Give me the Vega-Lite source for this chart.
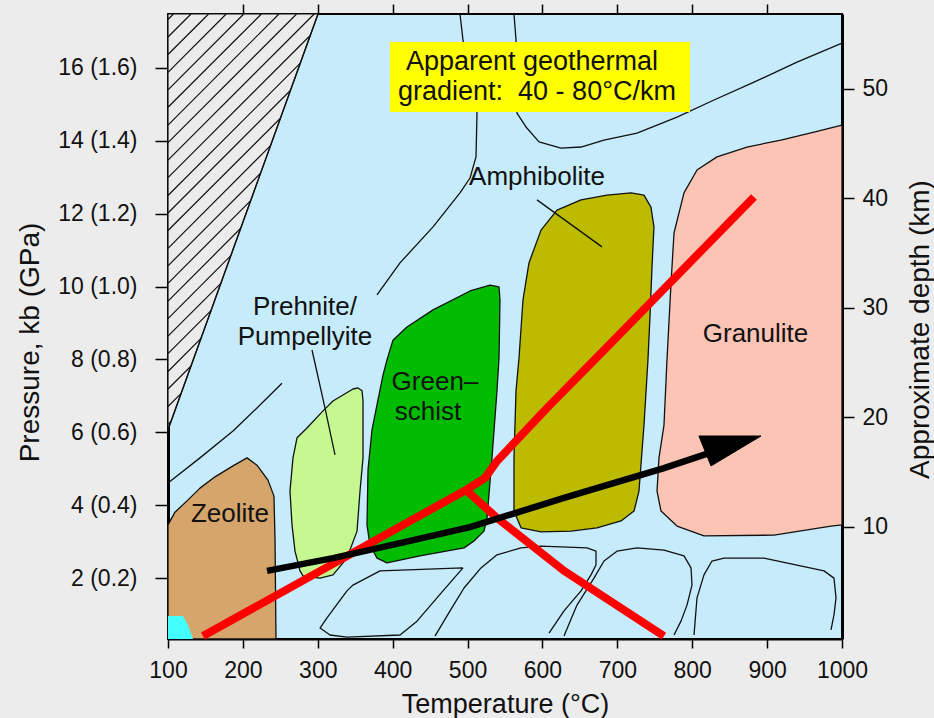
{
  "$schema": "https://vega.github.io/schema/vega-lite/v6.json",
  "width": 674,
  "height": 625,
  "autosize": {"type": "none"},
  "padding": {"left": 168, "top": 14, "right": 92, "bottom": 79},
  "background": "#ECECEC",
  "config": {
    "font": "Liberation Sans",
    "view": {"fill": "#C6EBFA", "stroke": "#000000", "strokeWidth": 2},
    "axis": {"grid": false, "labelFont": "Liberation Sans", "titleFont": "Liberation Sans", "labelColor": "#111111", "titleColor": "#111111", "titleFontWeight": "normal", "tickColor": "#000000", "domainColor": "#000000", "labelOverlap": false, "labelFlush": false}
  },
  "datasets": {
    "hatch": [
      {"i": 0, "T": 100, "P": 17.48}, {"i": 1, "T": 300.3, "P": 17.48}, {"i": 2, "T": 100, "P": 6.07}
    ],
    "hatchLines": [
      {"T": 100, "P": 17.33, "T2": 107.2, "P2": 17.48},
      {"T": 100, "P": 16.85, "T2": 130.7, "P2": 17.48},
      {"T": 100, "P": 16.37, "T2": 154.2, "P2": 17.48},
      {"T": 100, "P": 15.88, "T2": 177.7, "P2": 17.48},
      {"T": 100, "P": 15.40, "T2": 201.2, "P2": 17.48},
      {"T": 100, "P": 14.92, "T2": 224.7, "P2": 17.48},
      {"T": 100, "P": 14.43, "T2": 248.2, "P2": 17.48},
      {"T": 100, "P": 13.95, "T2": 271.7, "P2": 17.48},
      {"T": 100, "P": 13.47, "T2": 295.2, "P2": 17.48},
      {"T": 100, "P": 12.99, "T2": 289.9, "P2": 16.89},
      {"T": 100, "P": 12.50, "T2": 276.7, "P2": 16.13},
      {"T": 100, "P": 12.02, "T2": 263.4, "P2": 15.38},
      {"T": 100, "P": 11.54, "T2": 250.1, "P2": 14.62},
      {"T": 100, "P": 11.05, "T2": 236.9, "P2": 13.87},
      {"T": 100, "P": 10.57, "T2": 223.6, "P2": 13.11},
      {"T": 100, "P": 10.09, "T2": 210.4, "P2": 12.36},
      {"T": 100, "P": 9.60, "T2": 197.1, "P2": 11.60},
      {"T": 100, "P": 9.12, "T2": 183.9, "P2": 10.85},
      {"T": 100, "P": 8.64, "T2": 170.6, "P2": 10.09},
      {"T": 100, "P": 8.16, "T2": 157.4, "P2": 9.34},
      {"T": 100, "P": 7.67, "T2": 144.1, "P2": 8.58},
      {"T": 100, "P": 7.19, "T2": 130.8, "P2": 7.82},
      {"T": 100, "P": 6.71, "T2": 117.6, "P2": 7.07},
      {"T": 100, "P": 6.22, "T2": 104.3, "P2": 6.31}
    ],
    "facies": [
      {"shape": "Zeolite", "i": 0, "T": 100, "P": 0.33},
      {"shape": "Zeolite", "i": 1, "T": 100, "P": 3.46},
      {"shape": "Zeolite", "i": 2, "T": 109.3, "P": 3.81},
      {"shape": "Zeolite", "i": 3, "T": 125.4, "P": 4.12},
      {"shape": "Zeolite", "i": 4, "T": 142.7, "P": 4.47},
      {"shape": "Zeolite", "i": 5, "T": 162.8, "P": 4.78},
      {"shape": "Zeolite", "i": 6, "T": 186.8, "P": 5.08},
      {"shape": "Zeolite", "i": 7, "T": 205.5, "P": 5.30},
      {"shape": "Zeolite", "i": 8, "T": 218.8, "P": 5.10},
      {"shape": "Zeolite", "i": 9, "T": 233.5, "P": 4.69},
      {"shape": "Zeolite", "i": 10, "T": 241.5, "P": 4.25},
      {"shape": "Zeolite", "i": 11, "T": 242.9, "P": 3.05},
      {"shape": "Zeolite", "i": 12, "T": 244.2, "P": 0.33},
      {"shape": "Prehnite", "i": 0, "T": 353.7, "P": 7.22},
      {"shape": "Prehnite", "i": 1, "T": 347.0, "P": 7.19},
      {"shape": "Prehnite", "i": 2, "T": 320.3, "P": 6.86},
      {"shape": "Prehnite", "i": 3, "T": 307.0, "P": 6.59},
      {"shape": "Prehnite", "i": 4, "T": 285.6, "P": 6.12},
      {"shape": "Prehnite", "i": 5, "T": 272.3, "P": 5.85},
      {"shape": "Prehnite", "i": 6, "T": 266.9, "P": 5.30},
      {"shape": "Prehnite", "i": 7, "T": 262.9, "P": 4.39},
      {"shape": "Prehnite", "i": 8, "T": 265.6, "P": 3.46},
      {"shape": "Prehnite", "i": 9, "T": 269.6, "P": 2.74},
      {"shape": "Prehnite", "i": 10, "T": 276.3, "P": 2.20},
      {"shape": "Prehnite", "i": 11, "T": 280.3, "P": 2.06},
      {"shape": "Prehnite", "i": 12, "T": 303.0, "P": 2.00},
      {"shape": "Prehnite", "i": 13, "T": 320.3, "P": 2.09},
      {"shape": "Prehnite", "i": 14, "T": 339.0, "P": 2.55},
      {"shape": "Prehnite", "i": 15, "T": 352.4, "P": 3.29},
      {"shape": "Prehnite", "i": 16, "T": 356.4, "P": 4.39},
      {"shape": "Prehnite", "i": 17, "T": 360.4, "P": 5.30},
      {"shape": "Prehnite", "i": 18, "T": 360.4, "P": 6.86},
      {"shape": "Prehnite", "i": 19, "T": 359.1, "P": 7.14},
      {"shape": "Greenschist", "i": 0, "T": 392.4, "P": 7.99},
      {"shape": "Greenschist", "i": 1, "T": 400.4, "P": 8.53},
      {"shape": "Greenschist", "i": 2, "T": 419.1, "P": 8.89},
      {"shape": "Greenschist", "i": 3, "T": 453.9, "P": 9.36},
      {"shape": "Greenschist", "i": 4, "T": 503.3, "P": 9.88},
      {"shape": "Greenschist", "i": 5, "T": 530.0, "P": 10.04},
      {"shape": "Greenschist", "i": 6, "T": 542.0, "P": 9.99},
      {"shape": "Greenschist", "i": 7, "T": 543.3, "P": 9.63},
      {"shape": "Greenschist", "i": 8, "T": 542.0, "P": 8.04},
      {"shape": "Greenschist", "i": 9, "T": 539.3, "P": 7.14},
      {"shape": "Greenschist", "i": 10, "T": 532.6, "P": 5.30},
      {"shape": "Greenschist", "i": 11, "T": 526.0, "P": 3.65},
      {"shape": "Greenschist", "i": 12, "T": 522.0, "P": 3.29},
      {"shape": "Greenschist", "i": 13, "T": 508.6, "P": 3.02},
      {"shape": "Greenschist", "i": 14, "T": 495.3, "P": 2.83},
      {"shape": "Greenschist", "i": 15, "T": 436.5, "P": 2.61},
      {"shape": "Greenschist", "i": 16, "T": 392.4, "P": 2.42},
      {"shape": "Greenschist", "i": 17, "T": 379.1, "P": 2.55},
      {"shape": "Greenschist", "i": 18, "T": 369.7, "P": 2.91},
      {"shape": "Greenschist", "i": 19, "T": 365.7, "P": 3.46},
      {"shape": "Greenschist", "i": 20, "T": 367.1, "P": 4.97},
      {"shape": "Greenschist", "i": 21, "T": 372.4, "P": 6.07},
      {"shape": "Greenschist", "i": 22, "T": 380.4, "P": 6.89},
      {"shape": "Greenschist", "i": 23, "T": 387.1, "P": 7.57},
      {"shape": "Amphibolite", "i": 0, "T": 571.4, "P": 3.38},
      {"shape": "Amphibolite", "i": 1, "T": 562.0, "P": 3.84},
      {"shape": "Amphibolite", "i": 2, "T": 562.0, "P": 5.30},
      {"shape": "Amphibolite", "i": 3, "T": 564.7, "P": 7.14},
      {"shape": "Amphibolite", "i": 4, "T": 568.7, "P": 8.04},
      {"shape": "Amphibolite", "i": 5, "T": 574.0, "P": 9.63},
      {"shape": "Amphibolite", "i": 6, "T": 582.0, "P": 10.65},
      {"shape": "Amphibolite", "i": 7, "T": 598.1, "P": 11.55},
      {"shape": "Amphibolite", "i": 8, "T": 619.4, "P": 12.10},
      {"shape": "Amphibolite", "i": 9, "T": 651.5, "P": 12.38},
      {"shape": "Amphibolite", "i": 10, "T": 686.2, "P": 12.51},
      {"shape": "Amphibolite", "i": 11, "T": 718.2, "P": 12.57},
      {"shape": "Amphibolite", "i": 12, "T": 735.6, "P": 12.51},
      {"shape": "Amphibolite", "i": 13, "T": 744.9, "P": 12.18},
      {"shape": "Amphibolite", "i": 14, "T": 748.9, "P": 11.64},
      {"shape": "Amphibolite", "i": 15, "T": 746.3, "P": 10.54},
      {"shape": "Amphibolite", "i": 16, "T": 743.6, "P": 9.17},
      {"shape": "Amphibolite", "i": 17, "T": 740.9, "P": 7.99},
      {"shape": "Amphibolite", "i": 18, "T": 735.6, "P": 6.20},
      {"shape": "Amphibolite", "i": 19, "T": 728.9, "P": 4.39},
      {"shape": "Amphibolite", "i": 20, "T": 722.3, "P": 3.84},
      {"shape": "Amphibolite", "i": 21, "T": 704.9, "P": 3.57},
      {"shape": "Amphibolite", "i": 22, "T": 672.8, "P": 3.38},
      {"shape": "Amphibolite", "i": 23, "T": 638.1, "P": 3.29},
      {"shape": "Amphibolite", "i": 24, "T": 598.1, "P": 3.27},
      {"shape": "Granulite", "i": 0, "T": 766.3, "P": 7.99},
      {"shape": "Granulite", "i": 1, "T": 771.7, "P": 10.10},
      {"shape": "Granulite", "i": 2, "T": 775.7, "P": 11.47},
      {"shape": "Granulite", "i": 3, "T": 789.0, "P": 12.57},
      {"shape": "Granulite", "i": 4, "T": 806.4, "P": 13.20},
      {"shape": "Granulite", "i": 5, "T": 833.1, "P": 13.56},
      {"shape": "Granulite", "i": 6, "T": 873.1, "P": 13.83},
      {"shape": "Granulite", "i": 7, "T": 918.5, "P": 14.02},
      {"shape": "Granulite", "i": 8, "T": 962.7, "P": 14.24},
      {"shape": "Granulite", "i": 9, "T": 1000, "P": 14.43},
      {"shape": "Granulite", "i": 10, "T": 1000, "P": 3.46},
      {"shape": "Granulite", "i": 11, "T": 985.3, "P": 3.43},
      {"shape": "Granulite", "i": 12, "T": 909.2, "P": 3.18},
      {"shape": "Granulite", "i": 13, "T": 815.7, "P": 3.16},
      {"shape": "Granulite", "i": 14, "T": 779.7, "P": 3.43},
      {"shape": "Granulite", "i": 15, "T": 758.3, "P": 3.84},
      {"shape": "Granulite", "i": 16, "T": 753.0, "P": 4.39},
      {"shape": "Granulite", "i": 17, "T": 755.6, "P": 5.30},
      {"shape": "Granulite", "i": 18, "T": 762.3, "P": 6.20}
    ],
    "cyan": [
      {"i": 0, "T": 100, "P": 0.96}, {"i": 1, "T": 120.0, "P": 0.96}, {"i": 2, "T": 126.7, "P": 0.71}, {"i": 3, "T": 133.4, "P": 0.33}, {"i": 4, "T": 100, "P": 0.33}
    ],
    "boundaries": [
      {"id": "A", "i": 0, "T": 489.9, "P": 17.48}, {"id": "A", "i": 1, "T": 493.9, "P": 16.77}, {"id": "A", "i": 2, "T": 512.6, "P": 14.76}, {"id": "A", "i": 3, "T": 511.3, "P": 13.56}, {"id": "A", "i": 4, "T": 503.3, "P": 12.98}, {"id": "A", "i": 5, "T": 489.9, "P": 12.57}, {"id": "A", "i": 6, "T": 453.9, "P": 11.64}, {"id": "A", "i": 7, "T": 409.8, "P": 10.65}, {"id": "A", "i": 8, "T": 379.1, "P": 9.77},
      {"id": "B", "i": 0, "T": 562.0, "P": 17.48}, {"id": "B", "i": 1, "T": 564.7, "P": 16.77}, {"id": "B", "i": 2, "T": 566.0, "P": 14.76}, {"id": "B", "i": 3, "T": 578.0, "P": 14.38}, {"id": "B", "i": 4, "T": 595.4, "P": 13.97}, {"id": "B", "i": 5, "T": 624.8, "P": 13.80}, {"id": "B", "i": 6, "T": 651.5, "P": 13.83}, {"id": "B", "i": 7, "T": 682.2, "P": 14.02}, {"id": "B", "i": 8, "T": 726.3, "P": 14.21}, {"id": "B", "i": 9, "T": 779.7, "P": 14.65}, {"id": "B", "i": 10, "T": 829.1, "P": 15.12}, {"id": "B", "i": 11, "T": 882.5, "P": 15.61}, {"id": "B", "i": 12, "T": 939.9, "P": 16.16}, {"id": "B", "i": 13, "T": 1000, "P": 16.68},
      {"id": "C", "i": 0, "T": 100, "P": 4.61}, {"id": "C", "i": 1, "T": 142.7, "P": 5.30}, {"id": "C", "i": 2, "T": 186.8, "P": 6.04}, {"id": "C", "i": 3, "T": 218.8, "P": 6.67}, {"id": "C", "i": 4, "T": 252.2, "P": 7.35},
      {"id": "PL", "i": 0, "T": 292.3, "P": 8.26}, {"id": "PL", "i": 1, "T": 309.6, "P": 6.67}, {"id": "PL", "i": 2, "T": 323.0, "P": 5.38},
      {"id": "AL", "i": 0, "T": 592.7, "P": 12.38}, {"id": "AL", "i": 1, "T": 679.5, "P": 11.09},
      {"id": "H", "i": 0, "T": 300.3, "P": 17.48}, {"id": "H", "i": 1, "T": 100, "P": 6.07},
      {"id": "K1", "i": 0, "T": 493.9, "P": 2.28}, {"id": "K1", "i": 1, "T": 383.1, "P": 2.20}, {"id": "K1", "i": 2, "T": 347.0, "P": 1.81}, {"id": "K1", "i": 3, "T": 339.0, "P": 1.65}, {"id": "K1", "i": 4, "T": 312.3, "P": 0.91}, {"id": "K1", "i": 5, "T": 303.0, "P": 0.63}, {"id": "K1", "i": 6, "T": 316.3, "P": 0.44}, {"id": "K1", "i": 7, "T": 339.0, "P": 0.38}, {"id": "K1", "i": 8, "T": 409.8, "P": 0.44}, {"id": "K1", "i": 9, "T": 432.5, "P": 0.82}, {"id": "K1", "i": 10, "T": 467.2, "P": 1.65}, {"id": "K1", "i": 11, "T": 493.9, "P": 2.28},
      {"id": "K2", "i": 0, "T": 456.5, "P": 0.41}, {"id": "K2", "i": 1, "T": 476.6, "P": 1.10}, {"id": "K2", "i": 2, "T": 495.3, "P": 1.73}, {"id": "K2", "i": 3, "T": 517.9, "P": 2.28}, {"id": "K2", "i": 4, "T": 539.3, "P": 2.64}, {"id": "K2", "i": 5, "T": 571.4, "P": 2.83}, {"id": "K2", "i": 6, "T": 598.1, "P": 2.88}, {"id": "K2", "i": 7, "T": 659.5, "P": 2.83}, {"id": "K2", "i": 8, "T": 671.5, "P": 2.74}, {"id": "K2", "i": 9, "T": 671.5, "P": 2.36}, {"id": "K2", "i": 10, "T": 664.8, "P": 2.09}, {"id": "K2", "i": 11, "T": 651.5, "P": 1.65}, {"id": "K2", "i": 12, "T": 628.8, "P": 1.10}, {"id": "K2", "i": 13, "T": 608.8, "P": 0.49},
      {"id": "K3", "i": 0, "T": 628.8, "P": 0.41}, {"id": "K3", "i": 1, "T": 646.1, "P": 1.26}, {"id": "K3", "i": 2, "T": 668.8, "P": 2.00}, {"id": "K3", "i": 3, "T": 682.2, "P": 2.47}, {"id": "K3", "i": 4, "T": 699.5, "P": 2.74}, {"id": "K3", "i": 5, "T": 726.3, "P": 2.83}, {"id": "K3", "i": 6, "T": 762.3, "P": 2.77}, {"id": "K3", "i": 7, "T": 789.0, "P": 2.61}, {"id": "K3", "i": 8, "T": 798.4, "P": 2.28}, {"id": "K3", "i": 9, "T": 799.7, "P": 1.81}, {"id": "K3", "i": 10, "T": 793.0, "P": 1.26}, {"id": "K3", "i": 11, "T": 785.0, "P": 0.82}, {"id": "K3", "i": 12, "T": 775.7, "P": 0.44},
      {"id": "K4", "i": 0, "T": 802.4, "P": 0.44}, {"id": "K4", "i": 1, "T": 806.4, "P": 1.46}, {"id": "K4", "i": 2, "T": 815.7, "P": 2.09}, {"id": "K4", "i": 3, "T": 826.4, "P": 2.47}, {"id": "K4", "i": 4, "T": 842.4, "P": 2.55}, {"id": "K4", "i": 5, "T": 895.8, "P": 2.55}, {"id": "K4", "i": 6, "T": 939.9, "P": 2.36}, {"id": "K4", "i": 7, "T": 976.0, "P": 2.20}, {"id": "K4", "i": 8, "T": 989.3, "P": 2.00}, {"id": "K4", "i": 9, "T": 992.0, "P": 1.46}, {"id": "K4", "i": 10, "T": 989.3, "P": 0.99}, {"id": "K4", "i": 11, "T": 985.3, "P": 0.58}
    ],
    "red": [
      {"id": "R1", "i": 0, "T": 146.7, "P": 0.41}, {"id": "R1", "i": 1, "T": 497.9, "P": 4.42}, {"id": "R1", "i": 2, "T": 523.3, "P": 4.75}, {"id": "R1", "i": 3, "T": 539.3, "P": 5.21}, {"id": "R1", "i": 4, "T": 606.1, "P": 6.67}, {"id": "R1", "i": 5, "T": 686.2, "P": 8.34}, {"id": "R1", "i": 6, "T": 882.5, "P": 12.46},
      {"id": "R2", "i": 0, "T": 497.9, "P": 4.42}, {"id": "R2", "i": 1, "T": 539.3, "P": 3.65}, {"id": "R2", "i": 2, "T": 628.8, "P": 2.20}, {"id": "R2", "i": 3, "T": 762.3, "P": 0.41}
    ],
    "arrow": [
      {"i": 0, "T": 232.2, "P": 2.20}, {"i": 1, "T": 320.3, "P": 2.55}, {"i": 2, "T": 409.8, "P": 2.96}, {"i": 3, "T": 503.3, "P": 3.40}, {"i": 4, "T": 628.8, "P": 4.20}, {"i": 5, "T": 762.3, "P": 5.02}, {"i": 6, "T": 826.4, "P": 5.46}
    ],
    "arrowHead": [
      {"i": 0, "T": 809.0, "P": 5.90}, {"i": 1, "T": 825.1, "P": 5.08}, {"i": 2, "T": 891.8, "P": 5.90}
    ],
    "box": [
      {"T": 396.4, "T2": 797.0, "P": 16.71, "P2": 14.79}
    ],
    "labels": [
      {"label": "Zeolite", "T": 182.8, "P": 3.54},
      {"label": "Prehnite/", "T": 282.9, "P": 9.22},
      {"label": "Pumpellyite", "T": 282.9, "P": 8.40},
      {"label": "Green–", "T": 456.5, "P": 7.16},
      {"label": "schist", "T": 447.2, "P": 6.34},
      {"label": "Amphibolite", "T": 592.7, "P": 12.79},
      {"label": "Granulite", "T": 884.5, "P": 8.48}
    ],
    "boxText": [
      {"label": "Apparent geothermal", "T": 586.0, "P": 15.94},
      {"label": "gradient:\u00a0 40 - 80°C/km", "T": 592.7, "P": 15.12}
    ],
    "depth": [
      {"T": 100, "d": -0.26}, {"T": 1000, "d": 56.81}
    ]
  },
  "layer": [
    {
      "data": {"name": "hatch"},
      "mark": {"type": "line", "interpolate": "linear-closed", "fill": "#EBEBEB", "stroke": "#111111", "strokeWidth": 1.2},
      "encoding": {
        "x": {"field": "T", "type": "quantitative", "scale": {"domain": [100, 1000], "nice": false, "zero": false},
          "axis": {"orient": "bottom", "values": [100, 200, 300, 400, 500, 600, 700, 800, 900, 1000], "format": "d", "title": "Temperature (°C)", "titleFontSize": 27, "titleX": 337, "titleY": 73, "titleAlign": "center", "titleBaseline": "alphabetic", "labelFontSize": 23, "tickSize": 9, "tickWidth": 1.5, "labelPadding": 11, "domainWidth": 2}},
        "y": {"field": "P", "type": "quantitative", "scale": {"domain": [0.33, 17.48], "nice": false, "zero": false},
          "axis": {"orient": "left", "values": [2, 4, 6, 8, 10, 12, 14, 16], "labelExpr": "datum.value + ' (' + format(datum.value / 10, '.1f') + ')'", "title": "Pressure, kb (GPa)", "titleFontSize": 28, "titleAngle": 270, "titleX": -130, "titleY": 328, "titleAlign": "center", "titleBaseline": "alphabetic", "labelFontSize": 23, "tickSize": 13, "tickWidth": 1.5, "labelPadding": 18, "domainWidth": 3}},
        "order": {"field": "i", "type": "quantitative"}
      }
    },
    {
      "data": {"name": "hatchLines"},
      "mark": {"type": "rule", "stroke": "#111111", "strokeWidth": 1.2},
      "encoding": {
        "x": {"field": "T", "type": "quantitative", "scale": {"domain": [100, 1000], "nice": false, "zero": false},
          "axis": {"orient": "top", "values": [200, 300, 400, 500, 600, 700, 800, 900], "labelColor": "transparent", "labelFontSize": 1, "domain": false, "ticks": true, "tickSize": 10, "tickWidth": 1.5, "tickColor": "#000000", "title": ""}},
        "y": {"field": "P", "type": "quantitative", "scale": {"domain": [0.33, 17.48], "nice": false, "zero": false}, "axis": null},
        "x2": {"field": "T2"},
        "y2": {"field": "P2"}
      }
    },
    {
      "data": {"name": "facies"},
      "mark": {"type": "line", "interpolate": "linear-closed", "stroke": "#111111", "strokeWidth": 1.3, "strokeJoin": "round"},
      "encoding": {
        "x": {"field": "T", "type": "quantitative", "scale": {"domain": [100, 1000], "nice": false, "zero": false}, "axis": null},
        "y": {"field": "P", "type": "quantitative", "scale": {"domain": [0.33, 17.48], "nice": false, "zero": false}, "axis": null},
        "fill": {"field": "shape", "type": "nominal", "legend": null,
          "scale": {"domain": ["Zeolite", "Prehnite", "Greenschist", "Amphibolite", "Granulite"], "range": ["#D5A56C", "#C5F891", "#00BC00", "#BCBB00", "#FBC4B5"]}},
        "order": {"field": "i", "type": "quantitative"}
      }
    },
    {
      "data": {"name": "cyan"},
      "mark": {"type": "line", "interpolate": "linear-closed", "fill": "#44FFFF", "strokeWidth": 0},
      "encoding": {
        "x": {"field": "T", "type": "quantitative", "scale": {"domain": [100, 1000], "nice": false, "zero": false}, "axis": null},
        "y": {"field": "P", "type": "quantitative", "scale": {"domain": [0.33, 17.48], "nice": false, "zero": false}, "axis": null},
        "order": {"field": "i", "type": "quantitative"}
      }
    },
    {
      "data": {"name": "boundaries"},
      "mark": {"type": "line", "stroke": "#111111", "strokeWidth": 1.3, "strokeJoin": "round"},
      "encoding": {
        "x": {"field": "T", "type": "quantitative", "scale": {"domain": [100, 1000], "nice": false, "zero": false}, "axis": null},
        "y": {"field": "P", "type": "quantitative", "scale": {"domain": [0.33, 17.48], "nice": false, "zero": false}, "axis": null},
        "detail": {"field": "id", "type": "nominal"},
        "order": {"field": "i", "type": "quantitative"}
      }
    },
    {
      "data": {"name": "red"},
      "mark": {"type": "line", "stroke": "#FF0000", "strokeWidth": 8, "strokeCap": "butt", "strokeJoin": "miter"},
      "encoding": {
        "x": {"field": "T", "type": "quantitative", "scale": {"domain": [100, 1000], "nice": false, "zero": false}, "axis": null},
        "y": {"field": "P", "type": "quantitative", "scale": {"domain": [0.33, 17.48], "nice": false, "zero": false}, "axis": null},
        "detail": {"field": "id", "type": "nominal"},
        "order": {"field": "i", "type": "quantitative"}
      }
    },
    {
      "data": {"name": "arrow"},
      "mark": {"type": "line", "stroke": "#000000", "strokeWidth": 6.5, "strokeCap": "butt"},
      "encoding": {
        "x": {"field": "T", "type": "quantitative", "scale": {"domain": [100, 1000], "nice": false, "zero": false}, "axis": null},
        "y": {"field": "P", "type": "quantitative", "scale": {"domain": [0.33, 17.48], "nice": false, "zero": false}, "axis": null},
        "order": {"field": "i", "type": "quantitative"}
      }
    },
    {
      "data": {"name": "arrowHead"},
      "mark": {"type": "line", "interpolate": "linear-closed", "fill": "#000000", "stroke": "#000000", "strokeWidth": 1},
      "encoding": {
        "x": {"field": "T", "type": "quantitative", "scale": {"domain": [100, 1000], "nice": false, "zero": false}, "axis": null},
        "y": {"field": "P", "type": "quantitative", "scale": {"domain": [0.33, 17.48], "nice": false, "zero": false}, "axis": null},
        "order": {"field": "i", "type": "quantitative"}
      }
    },
    {
      "data": {"name": "box"},
      "mark": {"type": "rect", "fill": "#FFFF00"},
      "encoding": {
        "x": {"field": "T", "type": "quantitative", "scale": {"domain": [100, 1000], "nice": false, "zero": false}, "axis": null},
        "x2": {"field": "T2"},
        "y": {"field": "P", "type": "quantitative", "scale": {"domain": [0.33, 17.48], "nice": false, "zero": false}, "axis": null},
        "y2": {"field": "P2"}
      }
    },
    {
      "data": {"name": "labels"},
      "mark": {"type": "text", "font": "Liberation Sans", "fontSize": 26, "align": "center", "baseline": "alphabetic", "fill": "#111111"},
      "encoding": {
        "x": {"field": "T", "type": "quantitative", "scale": {"domain": [100, 1000], "nice": false, "zero": false}, "axis": null},
        "y": {"field": "P", "type": "quantitative", "scale": {"domain": [0.33, 17.48], "nice": false, "zero": false}, "axis": null},
        "text": {"field": "label"}
      }
    },
    {
      "data": {"name": "boxText"},
      "mark": {"type": "text", "font": "Liberation Sans", "fontSize": 27, "align": "center", "baseline": "alphabetic", "fill": "#111111"},
      "encoding": {
        "x": {"field": "T", "type": "quantitative", "scale": {"domain": [100, 1000], "nice": false, "zero": false}, "axis": null},
        "y": {"field": "P", "type": "quantitative", "scale": {"domain": [0.33, 17.48], "nice": false, "zero": false}, "axis": null},
        "text": {"field": "label"}
      }
    },
    {
      "data": {"name": "depth"},
      "mark": {"type": "point", "opacity": 0},
      "encoding": {
        "x": {"field": "T", "type": "quantitative", "scale": {"domain": [100, 1000], "nice": false, "zero": false}, "axis": null},
        "y": {"field": "d", "type": "quantitative", "scale": {"domain": [-0.26, 56.81], "nice": false, "zero": false},
          "axis": {"orient": "right", "values": [10, 20, 30, 40, 50], "title": "Approximate depth (km)", "titleFontSize": 28, "titleAngle": 270, "titleX": 86, "titleY": 315, "titleAlign": "center", "titleBaseline": "alphabetic", "labelFontSize": 23, "tickSize": 12, "tickWidth": 1.5, "labelPadding": 8, "domainWidth": 3}}
      }
    }
  ],
  "resolve": {"scale": {"x": "independent", "y": "independent"}, "axis": {"x": "independent", "y": "independent"}}
}
